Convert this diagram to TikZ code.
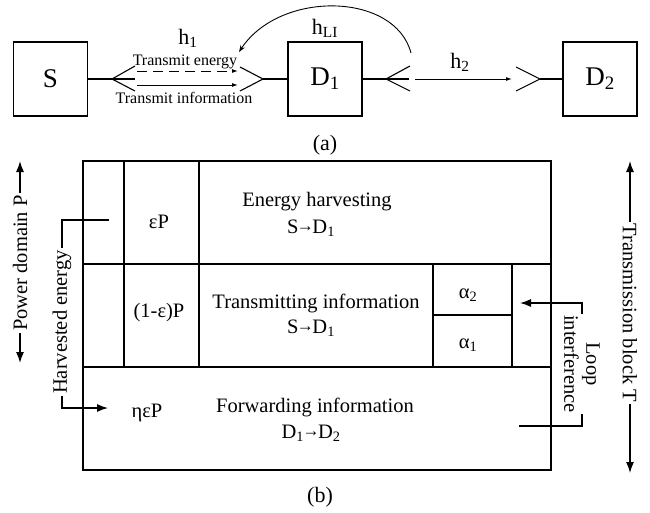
\documentclass[tikz,border=0pt]{standalone}
\usepackage{fontspec}
\setmainfont{Liberation Serif}
\usetikzlibrary{arrows.meta}
\newcommand{\smarrow}{\kern-1.5pt\raisebox{2pt}{\fontsize{17}{17}\selectfont →}\kern-1.5pt}
\begin{document}
\begin{tikzpicture}[x=1pt,y=-1pt,
  box/.style={draw,line width=1.1pt,minimum width=74pt,minimum height=74pt,inner sep=0pt,font=\fontsize{27}{30}\selectfont},
  lnk/.style={line width=1.1pt},
  sm/.style={font=\fontsize{16}{18}\selectfont,inner sep=0pt},
  lab/.style={font=\fontsize{20.5}{23}\selectfont,inner sep=0pt},
  hl/.style={font=\fontsize{22}{24}\selectfont,inner sep=0pt},
  gridl/.style={line width=1.5pt},
  big/.style={-{Latex[length=11pt,width=8pt]},line width=1.3pt},
  small/.style={-{Latex[length=6pt,width=4pt]},line width=1pt},
]
\useasboundingbox (0,0) rectangle (650,512);
% ---------- (a) ----------
\node[box] (S) at (50.5,79) {S};
\node[box] (D1) at (325,79) {D\textsubscript{1}};
\node[box] (D2) at (600,79) {D\textsubscript{2}};
% antennas
\coordinate (sv) at (112,79); \coordinate (su) at (135,66); \coordinate (sd) at (135,91); \coordinate (sc) at (135,79);
\draw[lnk] (S.east) -- (sv) -- (sc);
\draw[lnk] (su) -- (sv) -- (sd);
\coordinate (rv) at (263,79); \coordinate (ru) at (240,67); \coordinate (rd) at (240,91);
\draw[lnk] (D1.west) -- (rv);
\draw[lnk] (ru) -- (rv) -- (rd);
\coordinate (tv) at (386,79); \coordinate (tu) at (410,66); \coordinate (td) at (410,91); \coordinate (tc) at (409,79);
\draw[lnk] (D1.east) -- (tv) -- (tc);
\draw[lnk] (tu) -- (tv) -- (td);
\coordinate (dv) at (540,79); \coordinate (du) at (516,67); \coordinate (dd) at (516,91);
\draw[lnk] (D2.west) -- (dv);
\draw[lnk] (du) -- (dv) -- (dd);
% links
\coordinate (e1) at (137,71); \coordinate (e2) at (238,71);
\coordinate (i1) at (137,85); \coordinate (i2) at (238,85);
\coordinate (h1s) at (415,79); \coordinate (h1e) at (512,79);
\draw[small,dash pattern=on 10pt off 6pt] (e1) -- (e2);
\draw[small] (i1) -- (i2);
\draw[small] (h1s) -- (h1e);
\coordinate (ls) at (411,53); \coordinate (le) at (239,52);
\draw[line width=0.9pt,-{Stealth[length=7pt,width=5pt]}] (ls) .. controls (395,-8) and (280,-10) .. (le);
% labels
\node[hl] (lh1) at (188,38) {h\textsubscript{1}};
\node[sm] (lte) at (185,62) {Transmit energy};
\node[sm] (lti) at (184,98) {Transmit information};
\node[hl] (lhli) at (325,28) {h\textsubscript{LI}};
\node[hl] (lh2) at (460,62) {h\textsubscript{2}};
\node[hl] (la) at (325,145) {(a)};
% ---------- (b) ----------
\draw[line width=1.8pt] (83,161) rectangle (551,470);
\draw[gridl] (83,264) -- (551,264);
\draw[gridl] (83,367) -- (551,367);
\draw[gridl] (124,161) -- (124,367);
\draw[gridl] (199,161) -- (199,367);
\draw[gridl] (433,264) -- (433,367);
\draw[gridl] (512,264) -- (512,367);
\draw[gridl] (433,315) -- (512,315);
\node[lab] (ep) at (159,222) {εP};
\node[lab] (oep) at (159,313) {(1-ε)P};
\node[lab] (nep) at (147,413) {ηεP};
\node[lab] (eh) at (317,202) {Energy harvesting};
\node[lab] (eh2) at (311,228) {S\smarrow D\textsubscript{1}};
\node[lab] (ti) at (316,303) {Transmitting information};
\node[lab] (ti2) at (311,328) {S\smarrow D\textsubscript{1}};
\node[lab] (fi) at (315,407) {Forwarding information};
\node[lab] (fi2) at (311,433) {D\textsubscript{1}\smarrow D\textsubscript{2}};
\node[lab] (a2) at (468,295) {α\textsubscript{2}};
\node[lab] (a1) at (468,345) {α\textsubscript{1}};
% harvested energy
\node[lab,rotate=90,inner sep=2pt] (he) at (62,322) {Harvested energy};
\coordinate (hes) at (109,220); \coordinate (hee) at (108,408);
\draw[line width=1.3pt] (hes) -| (he.east);
\draw[line width=1.3pt,-{Latex[length=11pt,width=8pt]}] (he.west) |- (hee);
% power domain
\node[lab,rotate=90,inner sep=2pt] (pd) at (20,263) {Power domain P};
\coordinate (pdt) at (20,161); \coordinate (pdb) at (20,363);
\draw[big] (pd.east) -- (pdt);
\draw[big] (pd.west) -- (pdb);
% transmission block
\node[lab,rotate=-90,inner sep=2pt] (tb) at (630,313) {Transmission block T};
\coordinate (tbt) at (630,161); \coordinate (tbb) at (630,473);
\draw[big] (tb.west) -- (tbt);
\draw[big] (tb.east) -- (tbb);
% loop interference
\node[lab,rotate=-90,inner sep=1pt,align=center,font=\fontsize{20.5}{22}\selectfont] (li) at (582,364) {Loop\\interference};
\coordinate (lia) at (520,303); \coordinate (lib) at (519,426);
\draw[line width=1.3pt,-{Latex[length=11pt,width=8pt]}] (li.west) |- (lia);
\draw[line width=1.3pt] (li.east) |- (lib);
\node[hl] (lb) at (320,497) {(b)};
\end{tikzpicture}
\end{document}
